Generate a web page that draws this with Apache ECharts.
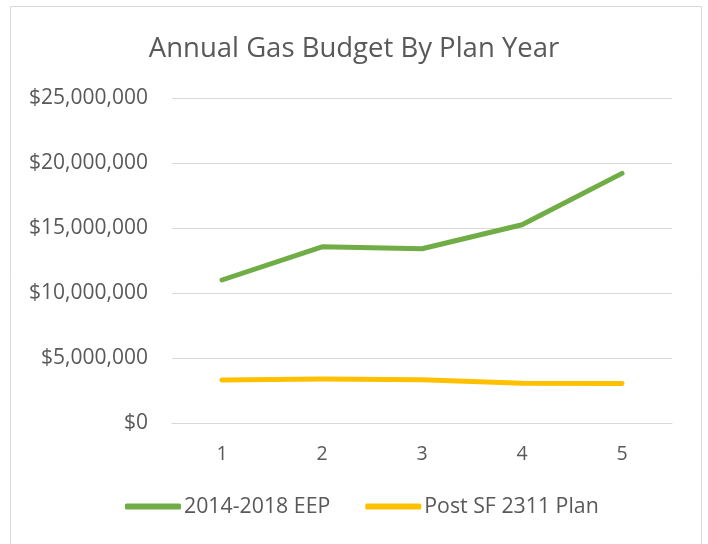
<!DOCTYPE html>
<html><head><meta charset="utf-8">
<script src="https://cdn.jsdelivr.net/npm/echarts@6/dist/echarts.min.js"></script>
<style>html,body{margin:0;padding:0;background:#fff}#c{width:708px;height:544px}</style>
</head><body><div id="c"></div>
<script>
const categories = ['1','2','3','4','5'];
const eep = [11000000, 13550000, 13400000, 15250000, 19200000];
const postSF = [3300000, 3380000, 3320000, 3050000, 3030000];
const seriesNames = ['2014-2018 EEP', 'Post SF 2311 Plan'];
const titleText = 'Annual Gas Budget By Plan Year';

const FONT = 'Open Sans';
const chart = echarts.init(document.getElementById('c'), null, {renderer:'canvas'});
chart.setOption({
  animation:false,
  backgroundColor:'#fff',
  graphic:[{type:'rect', shape:{x:10.5,y:6.5,width:691,height:560}, style:{fill:'none',stroke:'#d9d9d9',lineWidth:1}, silent:true}],
  title:{text:titleText, left:'center', top:30, textStyle:{fontFamily:FONT, fontSize:27.5, fontWeight:'normal', color:'#595959'}},
  legend:{bottom:22, left:120, padding:[5,5,5,5], itemWidth:56, itemHeight:6, itemGap:35, icon:'roundRect',
    textStyle:{fontFamily:FONT, fontSize:21.3, color:'#595959', padding:[0,0,0,-2]},
    data:seriesNames},
  grid:{left:172, right:36, top:98, bottom:121, containLabel:false},
  xAxis:{type:'category', data:categories, boundaryGap:true,
    axisLine:{show:true, lineStyle:{color:'#d9d9d9', width:1}}, axisTick:{show:false},
    axisLabel:{fontFamily:FONT, fontSize:19.5, color:'#595959', margin:21}},
  yAxis:{type:'value', min:0, max:25000000, interval:5000000,
    axisLine:{show:false}, axisTick:{show:false},
    splitLine:{lineStyle:{color:'#d9d9d9', width:1}},
    axisLabel:{fontFamily:FONT, fontSize:21, color:'#595959', margin:24,
      formatter:v=>'$'+v.toLocaleString('en-US')}},
  series:[
    {name:seriesNames[0], type:'line', data:eep, symbol:'none', smooth:false,
      lineStyle:{color:'#70ad47', width:5, cap:'round', join:'round'}, itemStyle:{color:'#70ad47'}},
    {name:seriesNames[1], type:'line', data:postSF, symbol:'none', smooth:false,
      lineStyle:{color:'#ffc000', width:5, cap:'round', join:'round'}, itemStyle:{color:'#ffc000'}}
  ]
});
</script></body></html>
